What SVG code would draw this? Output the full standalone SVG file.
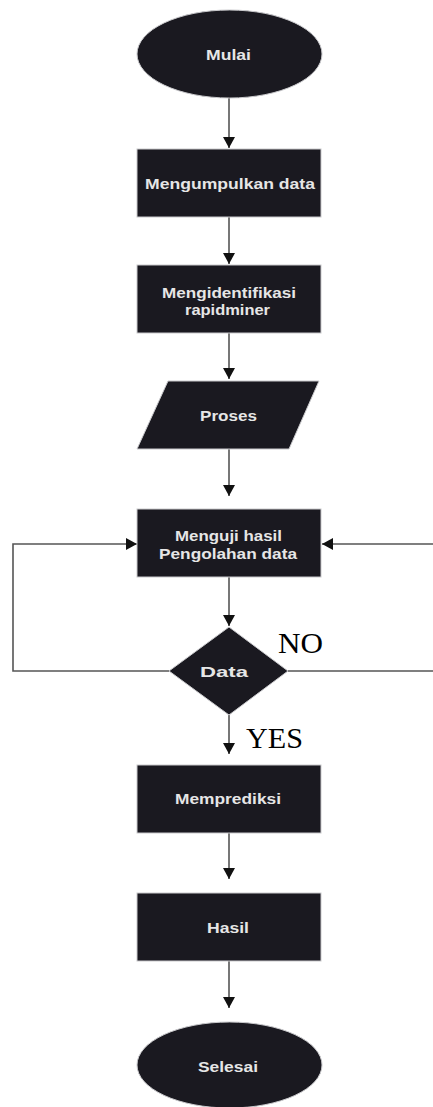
<svg xmlns="http://www.w3.org/2000/svg" width="433" height="1107" viewBox="0 0 433 1107">
<style>
.n{fill:#1a1920;stroke:#c9c9cc;stroke-width:1}
.t{font-family:"Liberation Sans",Arial,sans-serif;font-weight:bold;font-size:15px;fill:#e6e6e6;text-anchor:middle;dominant-baseline:central}
.c{fill:none;stroke:#555;stroke-width:1.6}
.lbl{font-family:"Liberation Serif","Times New Roman",serif;font-size:30px;fill:#000}
</style>
<defs>
<marker id="ah" markerUnits="userSpaceOnUse" markerWidth="12" markerHeight="12" viewBox="0 0 12 12" refX="11" refY="6" orient="auto">
<path d="M0,0 L11,6 L0,12 Z" fill="#111"/>
</marker>
</defs>
<rect width="433" height="1107" fill="#fff"/>
<g id="connectors">
<path class="c" d="M229,98 L229,148" marker-end="url(#ah)"/>
<path class="c" d="M229,217 L229,264" marker-end="url(#ah)"/>
<path class="c" d="M229,333 L229,379" marker-end="url(#ah)"/>
<path class="c" d="M229,449 L229,496" marker-end="url(#ah)"/>
<path class="c" d="M229,577 L229,626" marker-end="url(#ah)"/>
<path class="c" d="M229,715 L229,754" marker-end="url(#ah)"/>
<path class="c" d="M229,833 L229,879" marker-end="url(#ah)"/>
<path class="c" d="M229,961 L229,1008" marker-end="url(#ah)"/>
<path class="c" d="M169,671 L13,671 L13,544 L137,544" marker-end="url(#ah)"/>
<path class="c" d="M288,671 L440,671 L440,544 L322,544" marker-end="url(#ah)"/>
</g>
<g id="mulai">
<ellipse class="n" cx="229.5" cy="54" rx="92.5" ry="44"/>
<text class="t" x="228.5" y="54" textLength="45" lengthAdjust="spacingAndGlyphs">Mulai</text>
</g>
<g id="mengumpulkan">
<rect class="n" x="137" y="149" width="184" height="68"/>
<text class="t" x="230" y="183" textLength="170" lengthAdjust="spacingAndGlyphs">Mengumpulkan data</text>
</g>
<g id="mengidentifikasi">
<rect class="n" x="137" y="265" width="184" height="68"/>
<text class="t" x="229" y="292" textLength="134" lengthAdjust="spacingAndGlyphs">Mengidentifikasi</text>
<text class="t" x="227.5" y="309" textLength="85" lengthAdjust="spacingAndGlyphs">rapidminer</text>
</g>
<g id="proses">
<polygon class="n" points="168,381 319,381 289,449 137,449"/>
<text class="t" x="228.5" y="415" textLength="57" lengthAdjust="spacingAndGlyphs">Proses</text>
</g>
<g id="menguji">
<rect class="n" x="137" y="509" width="184" height="68"/>
<text class="t" x="228.5" y="535" textLength="107" lengthAdjust="spacingAndGlyphs">Menguji hasil</text>
<text class="t" x="228" y="553" textLength="138" lengthAdjust="spacingAndGlyphs">Pengolahan data</text>
</g>
<g id="data">
<polygon class="n" points="229,627 288,671 229,715 169,671"/>
<text class="t" x="224" y="671" textLength="48" lengthAdjust="spacingAndGlyphs">Data</text>
</g>
<g id="labels">
<text class="lbl" x="278" y="653" textLength="45" lengthAdjust="spacingAndGlyphs">NO</text>
<text class="lbl" x="246" y="748" textLength="57" lengthAdjust="spacingAndGlyphs">YES</text>
</g>
<g id="memprediksi">
<rect class="n" x="137" y="765" width="184" height="68"/>
<text class="t" x="228" y="798" textLength="106" lengthAdjust="spacingAndGlyphs">Memprediksi</text>
</g>
<g id="hasil">
<rect class="n" x="137" y="893" width="184" height="68"/>
<text class="t" x="228" y="927" textLength="42" lengthAdjust="spacingAndGlyphs">Hasil</text>
</g>
<g id="selesai">
<ellipse class="n" cx="229.5" cy="1065" rx="92.5" ry="43"/>
<text class="t" x="228" y="1066" textLength="60" lengthAdjust="spacingAndGlyphs">Selesai</text>
</g>
</svg>
